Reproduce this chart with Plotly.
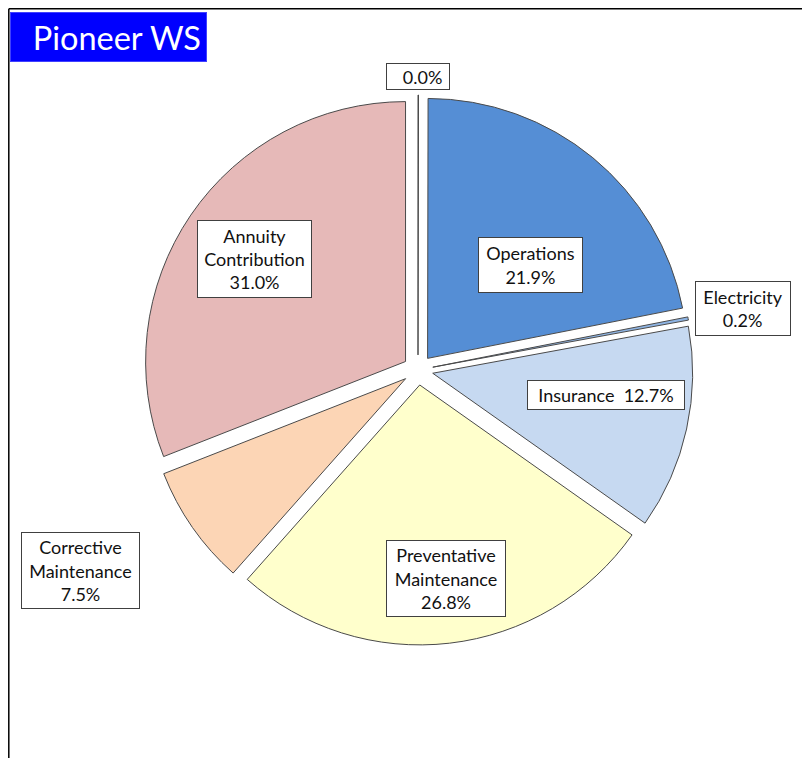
import plotly.graph_objects as go

W, H = 810, 758
OFF = 8  # page body margin of the browser

categories = ["Other", "Operations", "Electricity", "Insurance",
              "Preventative Maintenance", "Corrective Maintenance", "Annuity Contribution"]
values = [0.03, 21.9, 0.2, 12.7, 26.8, 7.5, 31.0]
label_texts = ["  0.0%", "Operations<br>21.9%", "Electricity<br>0.2%", "Insurance  12.7%",
               "Preventative<br>Maintenance<br>26.8%", "Corrective<br>Maintenance<br>7.5%",
               "Annuity<br>Contribution<br>31.0%"]
colors = ["#A6A6A6", "#558ED5", "#8EB4E3", "#C6D9F1", "#FFFFCC", "#FCD5B5", "#E6B9B8"]

# label box centres / sizes in pixels (x, y from top, w, h)
label_boxes = [(418, 76, 64, 27), (530, 265, 105, 56), (743, 308, 96, 55),
               (606, 395, 158, 30), (446, 578, 120, 77), (80, 570, 119, 77),
               (254, 259, 115, 78)]

cx, cy, side = 418, 370, 550
pull = 0.058


def px(x):
    return (x - OFF) / W


def py(y):
    return 1 - (y - OFF) / H


fig = go.Figure(go.Pie(
    labels=categories, values=values, sort=False, direction="clockwise", rotation=0,
    pull=[pull] * len(values), textinfo="none", hoverinfo="label+percent",
    marker=dict(colors=colors, line=dict(color="#4A4A4A", width=1)),
    domain=dict(x=[px(cx - side / 2), px(cx + side / 2)],
                y=[py(cy + side / 2), py(cy - side / 2)]),
    showlegend=False,
))

for txt, (bx, by, bw, bh) in zip(label_texts, label_boxes):
    fig.add_annotation(
        x=px(bx), y=py(by), xref="paper", yref="paper", text=txt, showarrow=False,
        xanchor="center", yanchor="middle", width=bw - 4, height=bh - 4,
        bgcolor="white", bordercolor="#404040", borderwidth=1, borderpad=1,
        font=dict(family="Lato", size=18, color="#111111"), align="center",
    )

# title box
fig.add_annotation(
    x=px(108), y=py(37), xref="paper", yref="paper", text="Pioneer WS", showarrow=False,
    xanchor="center", yanchor="middle", width=185, height=38, bgcolor="#0000FF",
    bordercolor="#4040FF", borderwidth=1, borderpad=5,
    font=dict(family="Lato", size=32.5, color="white"), align="right",
)

# frame (top and left visible edges)
fig.add_shape(type="line", xref="paper", yref="paper", x0=0.8 / W, x1=1.01, y0=1 - 0.8 / H, y1=1 - 0.8 / H,
              line=dict(color="black", width=1.5))
fig.add_shape(type="line", xref="paper", yref="paper", x0=0.8 / W, x1=0.8 / W, y0=-0.01, y1=1 - 0.8 / H,
              line=dict(color="black", width=1.5))

fig.update_layout(width=W, height=H, margin=dict(l=0, r=0, t=0, b=0),
                  paper_bgcolor="white", plot_bgcolor="white")
fig.write_html("out.html")
